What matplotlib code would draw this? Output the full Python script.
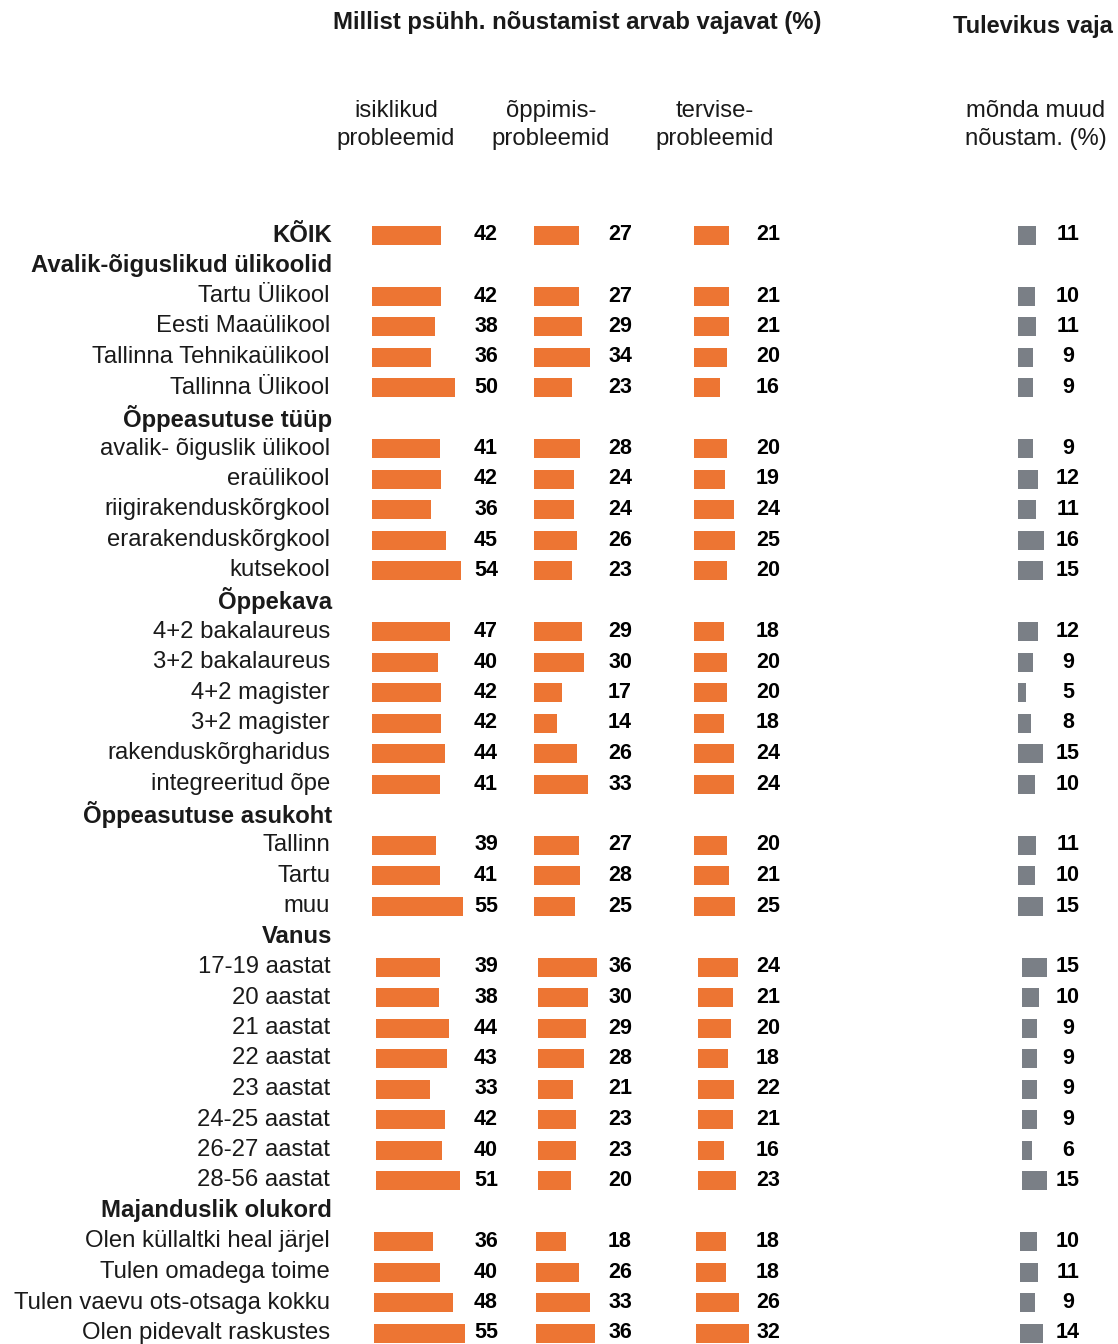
import matplotlib
matplotlib.use('Agg')
import matplotlib.pyplot as plt
import numpy as np

plt.rcParams['font.family'] = ['Liberation Sans', 'DejaVu Sans']

#-----------------------------------------------------------------
# Data (None = section header row, no bars)
#-----------------------------------------------------------------
labels = ['KÕIK', 'Avalik-õiguslikud ülikoolid',
          'Tartu Ülikool', 'Eesti Maaülikool', 'Tallinna Tehnikaülikool', 'Tallinna Ülikool',
          'Õppeasutuse tüüp',
          'avalik- õiguslik ülikool', 'eraülikool', 'riigirakenduskõrgkool',
          'erarakenduskõrgkool', 'kutsekool',
          'Õppekava',
          '4+2 bakalaureus', '3+2 bakalaureus', '4+2 magister', '3+2 magister',
          'rakenduskõrgharidus', 'integreeritud õpe',
          'Õppeasutuse asukoht',
          'Tallinn', 'Tartu', 'muu',
          'Vanus',
          '17-19 aastat', '20 aastat', '21 aastat', '22 aastat', '23 aastat',
          '24-25 aastat', '26-27 aastat', '28-56 aastat',
          'Majanduslik olukord',
          'Olen küllaltki heal järjel', 'Tulen omadega toime',
          'Tulen vaevu ots-otsaga kokku', 'Olen pidevalt raskustes']

bold_rows = ['KÕIK', 'Avalik-õiguslikud ülikoolid', 'Õppeasutuse tüüp', 'Õppekava',
             'Õppeasutuse asukoht', 'Vanus', 'Majanduslik olukord']

isiklikud = [42, None, 42, 38, 36, 50, None, 41, 42, 36, 45, 54, None,
             47, 40, 42, 42, 44, 41, None, 39, 41, 55, None,
             39, 38, 44, 43, 33, 42, 40, 51, None, 36, 40, 48, 55]
oppimis = [27, None, 27, 29, 34, 23, None, 28, 24, 24, 26, 23, None,
           29, 30, 17, 14, 26, 33, None, 27, 28, 25, None,
           36, 30, 29, 28, 21, 23, 23, 20, None, 18, 26, 33, 36]
tervise = [21, None, 21, 21, 20, 16, None, 20, 19, 24, 25, 20, None,
           18, 20, 20, 18, 24, 24, None, 20, 21, 25, None,
           24, 21, 20, 18, 22, 21, 16, 23, None, 18, 18, 26, 32]
muud = [11, None, 10, 11, 9, 9, None, 9, 12, 11, 16, 15, None,
        12, 9, 5, 8, 15, 10, None, 11, 10, 15, None,
        15, 10, 9, 9, 9, 9, 6, 15, None, 10, 11, 9, 14]

col_titles = ['isiklikud\nprobleemid', 'õppimis-\nprobleemid', 'tervise-\nprobleemid',
              'mõnda muud\nnõustam. (%)']

#-----------------------------------------------------------------
# Layout (figure drawn in pixel-like data coordinates)
#-----------------------------------------------------------------
orange = '#ED7533'
grey = '#7A7F86'
series = [isiklikud, oppimis, tervise, muud]
colors = [orange, orange, orange, grey]
bar_x0 = [372, 534, 694, 1018]
num_x = [486, 620, 768, 1068]
head_x = [396, 551, 715, 1036]
scale = 1.65

y0, y1 = 235, 1333
ys = np.linspace(y0, y1, len(labels))

# small horizontal shift of bars in later sections (as in original)
shift = np.zeros(len(labels))
shift[labels.index('Vanus'):labels.index('Majanduslik olukord')] = 4
shift[labels.index('Majanduslik olukord'):] = 2

fig = plt.figure(figsize=(11.18, 13.44), dpi=100)
ax = fig.add_axes([0, 0, 1, 1])
ax.set_xlim(0, 1118)
ax.set_ylim(1344, 0)
ax.axis('off')

for vals, col, x0, nx in zip(series, colors, bar_x0, num_x):
    for i, v in enumerate(vals):
        if v is None:
            continue
        ax.barh(ys[i], v * scale, left=x0 + shift[i], height=19, color=col,
                edgecolor='none')
        ax.text(nx, ys[i], str(v), ha='center', va='center', fontsize=15.5,
                fontweight='bold', color='#000000')

for i, lab in enumerate(labels):
    is_bold = lab in bold_rows
    ax.text(332 if is_bold else 330, ys[i], lab, ha='right', va='center',
            fontsize=17.2, fontweight='bold' if is_bold else 'normal',
            color='#1a1a1a')

for hx, t in zip(head_x, col_titles):
    ax.text(hx, 125, t, ha='center', va='center', fontsize=17.2,
            color='#1a1a1a', linespacing=1.4)

ax.text(577, 23, 'Millist psühh. nõustamist arvab vajavat (%)', ha='center',
        va='center', fontsize=17.2, fontweight='bold', color='#1a1a1a')
ax.text(953, 27, 'Tulevikus vaja', ha='left', va='center', fontsize=17.0,
        fontweight='bold', color='#1a1a1a')

fig.savefig('out.png', dpi=100)
